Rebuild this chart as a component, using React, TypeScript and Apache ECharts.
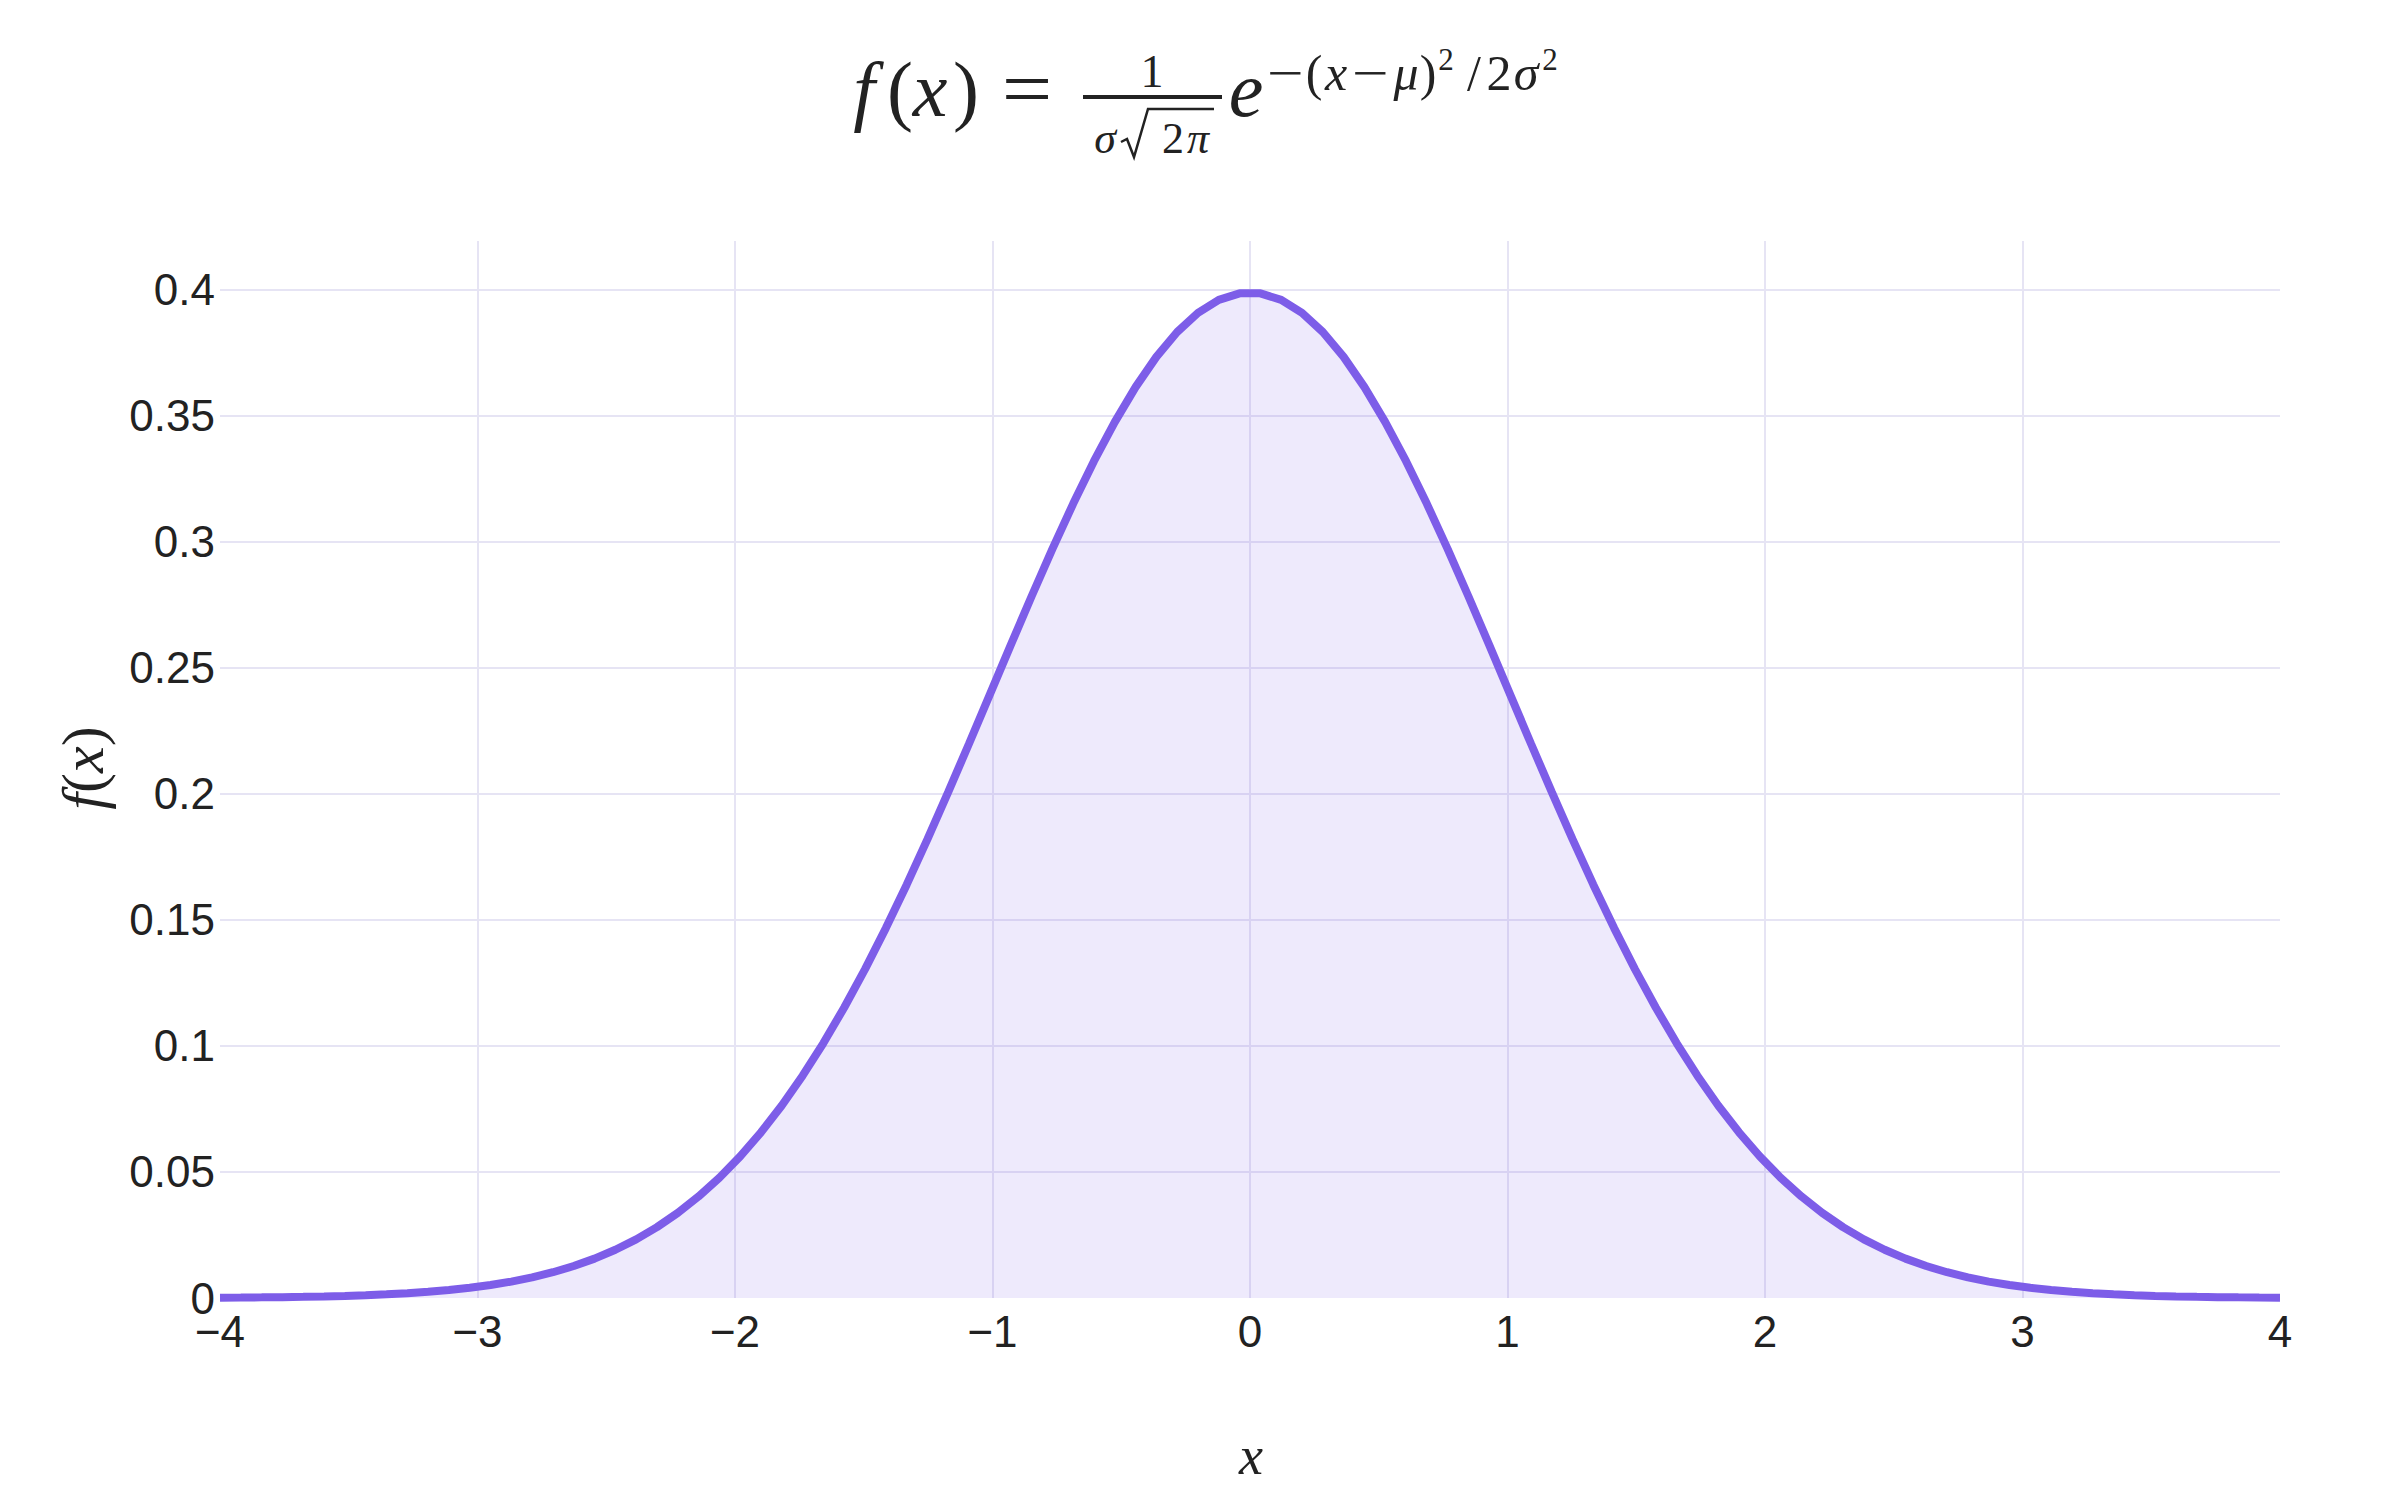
import React, { useEffect, useRef } from 'react';
import * as echarts from 'echarts';

// sample points of the curve (x from -4 to 4, 100 points)
const xValues = [
  -4, -3.9192, -3.8384, -3.7576, -3.6768, -3.596, -3.5152, -3.4343, -3.3535, -3.2727,
  -3.1919, -3.1111, -3.0303, -2.9495, -2.8687, -2.7879, -2.7071, -2.6263, -2.5455, -2.4646,
  -2.3838, -2.303, -2.2222, -2.1414, -2.0606, -1.9798, -1.899, -1.8182, -1.7374, -1.6566,
  -1.5758, -1.4949, -1.4141, -1.3333, -1.2525, -1.1717, -1.0909, -1.0101, -0.9293, -0.8485,
  -0.7677, -0.6869, -0.6061, -0.5253, -0.4444, -0.3636, -0.2828, -0.202, -0.1212, -0.0404,
  0.0404, 0.1212, 0.202, 0.2828, 0.3636, 0.4444, 0.5253, 0.6061, 0.6869, 0.7677,
  0.8485, 0.9293, 1.0101, 1.0909, 1.1717, 1.2525, 1.3333, 1.4141, 1.4949, 1.5758,
  1.6566, 1.7374, 1.8182, 1.899, 1.9798, 2.0606, 2.1414, 2.2222, 2.303, 2.3838,
  2.4646, 2.5455, 2.6263, 2.7071, 2.7879, 2.8687, 2.9495, 3.0303, 3.1111, 3.1919,
  3.2727, 3.3535, 3.4343, 3.5152, 3.596, 3.6768, 3.7576, 3.8384, 3.9192, 4,
];

const yValues = [
  0.00013383, 0.00018429, 0.00025214, 0.0003427, 0.0004628, 0.00062087, 0.00082752, 0.0010958, 0.0014415, 0.0018841,
  0.0024465, 0.003156, 0.0040448, 0.0051504, 0.0065151, 0.0081883, 0.010224, 0.012683, 0.01563, 0.019136,
  0.023277, 0.02813, 0.033775, 0.040286, 0.047739, 0.056206, 0.065742, 0.076396, 0.088198, 0.10116,
  0.11527, 0.1305, 0.14678, 0.16401, 0.18207, 0.20081, 0.22003, 0.23953, 0.25905, 0.27834,
  0.29712, 0.31511, 0.33201, 0.34754, 0.36142, 0.37342, 0.3833, 0.39088, 0.39602, 0.39862,
  0.39862, 0.39602, 0.39088, 0.3833, 0.37342, 0.36142, 0.34754, 0.33201, 0.31511, 0.29712,
  0.27834, 0.25905, 0.23953, 0.22003, 0.20081, 0.18207, 0.16401, 0.14678, 0.1305, 0.11527,
  0.10116, 0.088198, 0.076396, 0.065742, 0.056206, 0.047739, 0.040286, 0.033775, 0.02813, 0.023277,
  0.019136, 0.01563, 0.012683, 0.010224, 0.0081883, 0.0065151, 0.0051504, 0.0040448, 0.003156, 0.0024465,
  0.0018841, 0.0014415, 0.0010958, 0.00082752, 0.00062087, 0.0004628, 0.0003427, 0.00025214, 0.00018429, 0.00013383,
];

const xTicks = [-4, 4, 1];
const yTicks = [0, 0.4194, 0.05];

const SERIF = '"Liberation Serif", "DejaVu Serif", serif';
const SANS = '"Liberation Sans", Arial, sans-serif';
const INK = '#222222';
const PURPLE = '#7d5de8';
const GRID = '#e6e4f4';

// one glyph of the formula, centred on (x, y)
const glyph = (text: string, x: number, y: number, size: number, italic: boolean, scaleX = 1) => ({
  type: 'text',
  x,
  y,
  scaleX,
  silent: true,
  style: {
    text,
    fill: INK,
    font: `${italic ? 'italic ' : ''}${size}px ${SERIF}`,
    align: 'center',
    verticalAlign: 'middle',
  },
});

const App: React.FC = () => {
  const chartRef = useRef<HTMLDivElement>(null);

  useEffect(() => {
    const chartDom = chartRef.current!;
    const myChart = echarts.init(chartDom, null, { renderer: 'svg' });

    const option: any = {
      animation: false,
      backgroundColor: '#ffffff',
      grid: { left: 220, right: 120, top: 241, bottom: 202, containLabel: false },
      xAxis: {
        type: 'value',
        min: xTicks[0],
        max: xTicks[1],
        interval: xTicks[2],
        axisLine: { show: false },
        axisTick: { show: false },
        axisLabel: {
          margin: 17,
          fontSize: 44,
          lineHeight: 32,
          fontFamily: SANS,
          color: INK,
          formatter: (v: number) => (v < 0 ? '\u2212' + Math.abs(v) : String(v)),
        },
        splitLine: { show: true, showMinLine: false, showMaxLine: false, lineStyle: { color: GRID, width: 2 } },
      },
      yAxis: {
        type: 'value',
        min: yTicks[0],
        max: yTicks[1],
        interval: yTicks[2],
        axisLine: { show: false },
        axisTick: { show: false },
        axisLabel: {
          margin: 5,
          fontSize: 44,
          lineHeight: 32,
          fontFamily: SANS,
          color: INK,
          showMaxLabel: false,
          formatter: (v: number) => (v > 0.41 ? '' : String(Math.round(v * 100) / 100)),
        },
        splitLine: { show: true, showMinLine: false, showMaxLine: false, lineStyle: { color: GRID, width: 2 } },
      },
      series: [
        {
          type: 'line',
          data: xValues.map((x, i) => [x, yValues[i]]),
          showSymbol: false,
          smooth: false,
          lineStyle: { color: PURPLE, width: 8 },
          itemStyle: { color: PURPLE },
          areaStyle: { color: PURPLE, opacity: 0.13 },
          z: 3,
        },
      ],
      graphic: [
        // title formula: f(x) = 1/(σ√2π) e^{-(x-μ)^2/2σ^2}
        glyph('f', 864, 89, 78, true),
        glyph('(', 900, 89, 78, false),
        glyph('x', 930, 89, 78, true),
        glyph(')', 966, 89, 78, false),
        glyph('=', 1027, 89, 78, false, 1.15),
        glyph('1', 1152, 71, 46, false),
        { type: 'line', silent: true, shape: { x1: 1083, y1: 97, x2: 1222, y2: 97 }, style: { stroke: INK, lineWidth: 4 } },
        glyph('σ', 1105, 138, 44, true),
        {
          type: 'polyline',
          silent: true,
          shape: { points: [[1121, 142], [1127, 139], [1134, 157], [1148, 109], [1214, 109]] },
          style: { stroke: INK, lineWidth: 2.5, fill: null },
        },
        glyph('2', 1173, 138, 44, false),
        glyph('π', 1198, 138, 44, true),
        glyph('e', 1246, 89, 78, true),
        glyph('\u2212', 1285, 73, 50, false, 1.3),
        glyph('(', 1314, 73, 50, false),
        glyph('x', 1336, 73, 50, true),
        glyph('\u2212', 1370, 73, 50, false, 1.3),
        glyph('μ', 1406, 73, 50, true),
        glyph(')', 1428, 73, 50, false),
        glyph('2', 1446, 59, 31, false),
        glyph('/', 1474, 73, 50, false),
        glyph('2', 1499, 73, 50, false),
        glyph('σ', 1526, 73, 50, true),
        glyph('2', 1550, 59, 31, false),
        // axis titles
        glyph('x', 1251, 1456, 54, true),
        {
          type: 'text',
          x: 83,
          y: 768,
          rotation: Math.PI / 2,
          silent: true,
          style: {
            text: '{i|f}{n|(}{i|x}{n|)}',
            align: 'center',
            verticalAlign: 'middle',
            rich: {
              i: { fontStyle: 'italic', fontSize: 60, fontFamily: SERIF, fill: INK },
              n: { fontStyle: 'normal', fontSize: 60, fontFamily: SERIF, fill: INK },
            },
          },
        },
      ],
    };

    myChart.setOption(option);

    return () => {
      myChart.dispose();
    };
  }, []);

  return (
    <div
      ref={chartRef}
      style={{ position: 'absolute', left: 0, top: 0, width: 2400, height: 1500 }}
    />
  );
};

export default App;
